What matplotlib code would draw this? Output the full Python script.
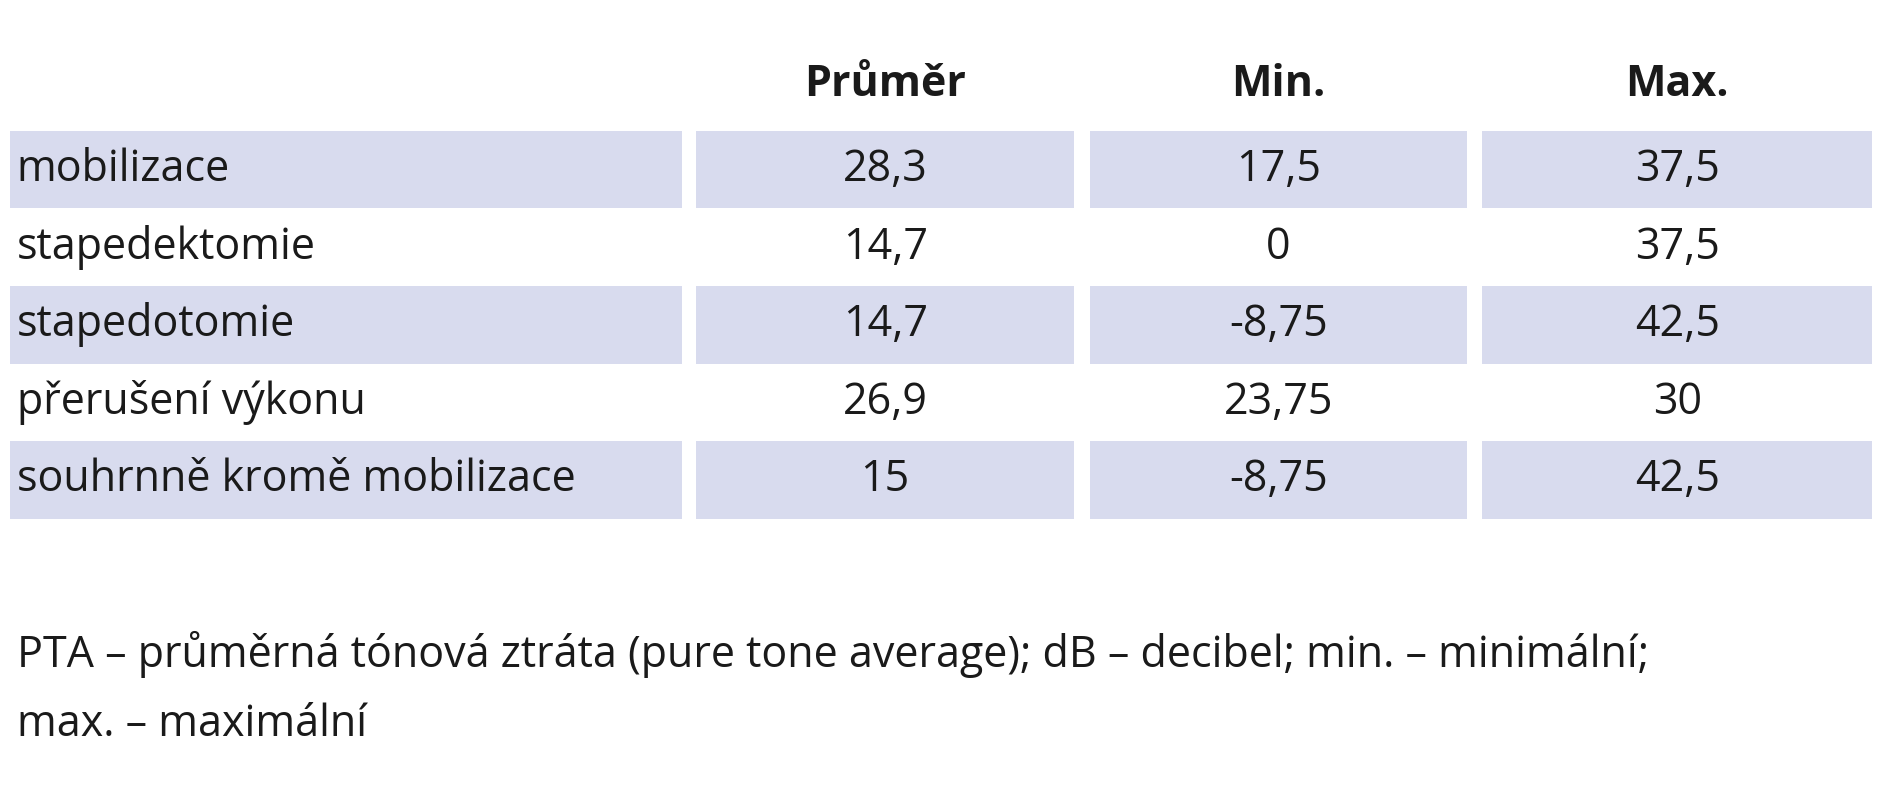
import matplotlib
matplotlib.use("Agg")
import matplotlib.pyplot as plt
from matplotlib.patches import Rectangle

headers = ["Průměr", "Min.", "Max."]
categories = ["mobilizace", "stapedektomie", "stapedotomie", "přerušení výkonu", "souhrnně kromě mobilizace"]
prumer = ["28,3", "14,7", "14,7", "26,9", "15"]
minimum = ["17,5", "0", "-8,75", "23,75", "-8,75"]
maximum = ["37,5", "37,5", "42,5", "30", "42,5"]
footnote = ["PTA – průměrná tónová ztráta (pure tone average); dB – decibel; min. – minimální;",
            "max. – maximální"]

W, H = 1568, 660
fig = plt.figure(figsize=(18.82, 8.0), dpi=100)
ax = fig.add_axes([0, 0, 1, 1])
ax.set_xlim(0, W); ax.set_ylim(H, 0); ax.axis("off")

fam = ["Open Sans", "DejaVu Sans"]
fs = 31
shade = "#d8dbee"
cols = [(8, 568), (580, 895), (908, 1222), (1235, 1560)]
row_top, rh = 108, 64

for j, h in enumerate(headers):
    x0, x1 = cols[j + 1]
    ax.text((x0 + x1) / 2, 70, h, ha="center", va="center", fontsize=fs, fontweight="bold", family=fam, color="#1a1a1a")

for i, cat in enumerate(categories):
    y0 = row_top + i * rh
    if i % 2 == 0:
        for x0, x1 in cols:
            ax.add_patch(Rectangle((x0, y0), x1 - x0, rh, color=shade, lw=0))
    yc = y0 + rh / 2
    ax.text(14, yc, cat, ha="left", va="center", fontsize=fs, family=fam, color="#1a1a1a")
    for j, v in enumerate([prumer[i], minimum[i], maximum[i]]):
        x0, x1 = cols[j + 1]
        ax.text((x0 + x1) / 2, yc, v, ha="center", va="center", fontsize=fs, family=fam, color="#1a1a1a")

for k, line in enumerate(footnote):
    ax.text(14, 540 + k * 58, line, ha="left", va="center", fontsize=fs, family=fam, color="#1a1a1a")

fig.savefig("out.png", dpi=100)
